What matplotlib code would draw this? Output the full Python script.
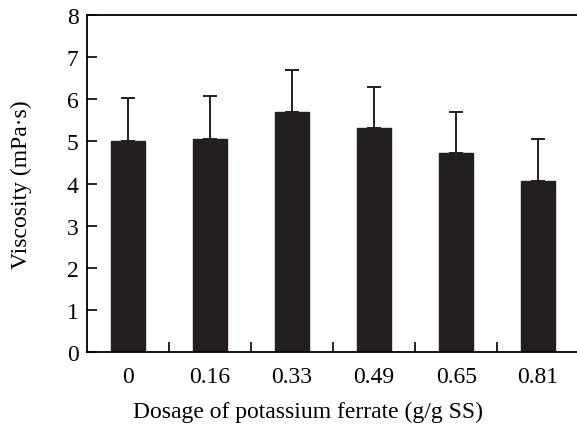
import numpy as np
import matplotlib.pyplot as plt

# dosage categories and measured viscosity
dosage = ['0', '0.16', '0.33', '0.49', '0.65', '0.81']
viscosity = [5.02, 5.06, 5.70, 5.32, 4.72, 4.07]
err = [1.02, 1.02, 0.99, 0.98, 0.97, 0.98]

plt.rcParams['font.family'] = ['Liberation Serif', 'DejaVu Serif']

fig = plt.figure(figsize=(5.77, 4.27), dpi=100)
ax = fig.add_axes([0.1508, 0.1733, 0.853, 0.789])

x = np.arange(len(dosage))
ax.bar(x, viscosity, width=0.41, color='#231f20', edgecolor='#231f20', zorder=2)
ax.errorbar(x, viscosity, yerr=[np.zeros(len(err)), err], fmt='none',
            ecolor='#231f20', elinewidth=1.4, capsize=5, capthick=1.4, zorder=3)

ax.set_xlim(-0.5, 5.5)
ax.set_ylim(0, 8)
ax.set_yticks(range(0, 9))
ax.set_xticks(x)
ax.set_xticklabels(dosage)
ax.tick_params(axis='x', which='major', length=0, pad=10, labelsize=17)
ax.set_xticks(x[:-1] + 0.5, minor=True)
ax.tick_params(axis='x', which='minor', direction='in', length=7, width=1.2)
ax.tick_params(axis='y', direction='in', length=7, width=1.2, labelsize=17, pad=6)

for s in ['left', 'bottom', 'top']:
    ax.spines[s].set_linewidth(1.3)
ax.spines['right'].set_visible(False)

ax.set_xlabel('Dosage of potassium ferrate (g/g SS)', fontsize=17)
ax.xaxis.set_label_coords(0.449, -0.145)
ax.set_ylabel('Viscosity (mPa·s)', fontsize=17, labelpad=25)

fig.savefig('out.png', dpi=100)
